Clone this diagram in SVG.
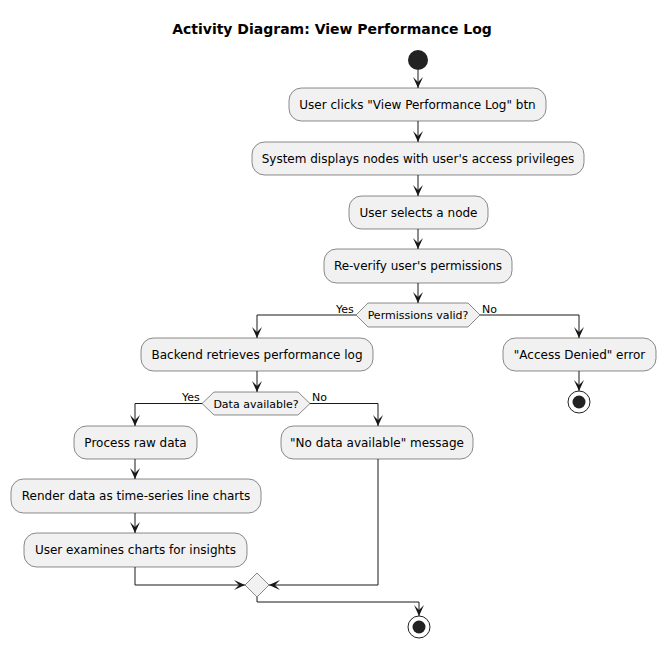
<svg xmlns="http://www.w3.org/2000/svg" width="666" height="649" viewBox="0 0 666 649">
<defs>
<style>
.box{fill:#F1F1F1;stroke:#181818;stroke-width:0.5}
.dia{fill:#F1F1F1;stroke:#181818;stroke-width:0.5}
.t{font-family:"DejaVu Sans",sans-serif;font-size:12px;fill:#000;text-anchor:middle}
.s{font-family:"DejaVu Sans",sans-serif;font-size:11px;fill:#000}
.ln{fill:none;stroke:#181818;stroke-width:1}
.ah{fill:#181818;stroke:#181818;stroke-width:1}
</style>
<marker id="arr" viewBox="0 0 12 10" refX="11" refY="5" markerWidth="12" markerHeight="10" markerUnits="userSpaceOnUse" orient="auto">
<polygon points="0,0 11,5 0,10 5,5" fill="#181818"/>
</marker>
</defs>
<rect width="666" height="649" fill="#FFFFFF"/>
<text x="332" y="34" font-family="DejaVu Sans,sans-serif" font-size="14" font-weight="bold" text-anchor="middle">Activity Diagram: View Performance Log</text>

<g id="connectors">
<line class="ln" x1="418" y1="70" x2="418" y2="88" marker-end="url(#arr)"/>
<line class="ln" x1="418" y1="121" x2="418" y2="142" marker-end="url(#arr)"/>
<line class="ln" x1="418" y1="175" x2="418" y2="196" marker-end="url(#arr)"/>
<line class="ln" x1="418" y1="229" x2="418" y2="249" marker-end="url(#arr)"/>
<line class="ln" x1="418" y1="283" x2="418" y2="303" marker-end="url(#arr)"/>
<polyline class="ln" points="356,315 257,315 257,338" marker-end="url(#arr)"/>
<polyline class="ln" points="480,315 579,315 579,338" marker-end="url(#arr)"/>
<line class="ln" x1="579" y1="371" x2="579" y2="391" marker-end="url(#arr)"/>
<line class="ln" x1="257" y1="371" x2="257" y2="392" marker-end="url(#arr)"/>
<polyline class="ln" points="202,403.5 135,403.5 135,426" marker-end="url(#arr)"/>
<polyline class="ln" points="310,403.5 378,403.5 378,426" marker-end="url(#arr)"/>
<line class="ln" x1="135" y1="459" x2="135" y2="479" marker-end="url(#arr)"/>
<line class="ln" x1="135" y1="513" x2="135" y2="533" marker-end="url(#arr)"/>
<polyline class="ln" points="135,567 135,585 245,585" marker-end="url(#arr)"/>
<polyline class="ln" points="378,459 378,585 269,585" marker-end="url(#arr)"/>
<polyline class="ln" points="257,597 257,602 419,602 419,616" marker-end="url(#arr)"/>
<text class="s" x="336" y="313">Yes</text>
<text class="s" x="482" y="313">No</text>
<text class="s" x="182" y="401">Yes</text>
<text class="s" x="312" y="401">No</text>
</g>

<g id="start"><circle cx="418" cy="60" r="10" fill="#222222"/></g>
<g id="n1"><rect class="box" x="289" y="88" width="257" height="33" rx="12.5"/><text class="t" x="417.5" y="109">User clicks "View Performance Log" btn</text></g>
<g id="n2"><rect class="box" x="252" y="142" width="332" height="33" rx="12.5"/><text class="t" x="418" y="163">System displays nodes with user's access privileges</text></g>
<g id="n3"><rect class="box" x="349" y="196" width="139" height="33" rx="12.5"/><text class="t" x="418.5" y="217">User selects a node</text></g>
<g id="n4"><rect class="box" x="324" y="249" width="188" height="34" rx="12.5"/><text class="t" x="418" y="270">Re-verify user's permissions</text></g>
<g id="d1"><polygon class="dia" points="356,315 368,303 468,303 480,315 468,327 368,327"/><text class="s" x="418" y="319" text-anchor="middle">Permissions valid?</text></g>
<g id="n5"><rect class="box" x="141" y="338" width="232" height="33" rx="12.5"/><text class="t" x="257" y="359">Backend retrieves performance log</text></g>
<g id="n6"><rect class="box" x="503" y="338" width="153" height="33" rx="12.5"/><text class="t" x="579.5" y="359">"Access Denied" error</text></g>
<g id="end1"><circle cx="579" cy="402" r="11" fill="none" stroke="#222222" stroke-width="1"/><circle cx="579" cy="402" r="6.5" fill="#222222"/></g>
<g id="d2"><polygon class="dia" points="202,403.5 214,392 298,392 310,403.5 298,415 214,415"/><text class="s" x="256" y="407.5" text-anchor="middle">Data available?</text></g>
<g id="n7"><rect class="box" x="74" y="426" width="123" height="33" rx="12.5"/><text class="t" x="135.5" y="447">Process raw data</text></g>
<g id="n8"><rect class="box" x="281" y="426" width="192" height="33" rx="12.5"/><text class="t" x="377" y="447">"No data available" message</text></g>
<g id="n9"><rect class="box" x="11" y="479" width="250" height="34" rx="12.5"/><text class="t" x="136" y="500">Render data as time-series line charts</text></g>
<g id="n10"><rect class="box" x="24" y="533" width="223" height="34" rx="12.5"/><text class="t" x="135.5" y="554">User examines charts for insights</text></g>
<g id="merge"><polygon class="dia" points="257,573 269,585 257,597 245,585"/></g>
<g id="end2"><circle cx="419" cy="627" r="11" fill="none" stroke="#222222" stroke-width="1"/><circle cx="419" cy="627" r="6.5" fill="#222222"/></g>
</svg>
